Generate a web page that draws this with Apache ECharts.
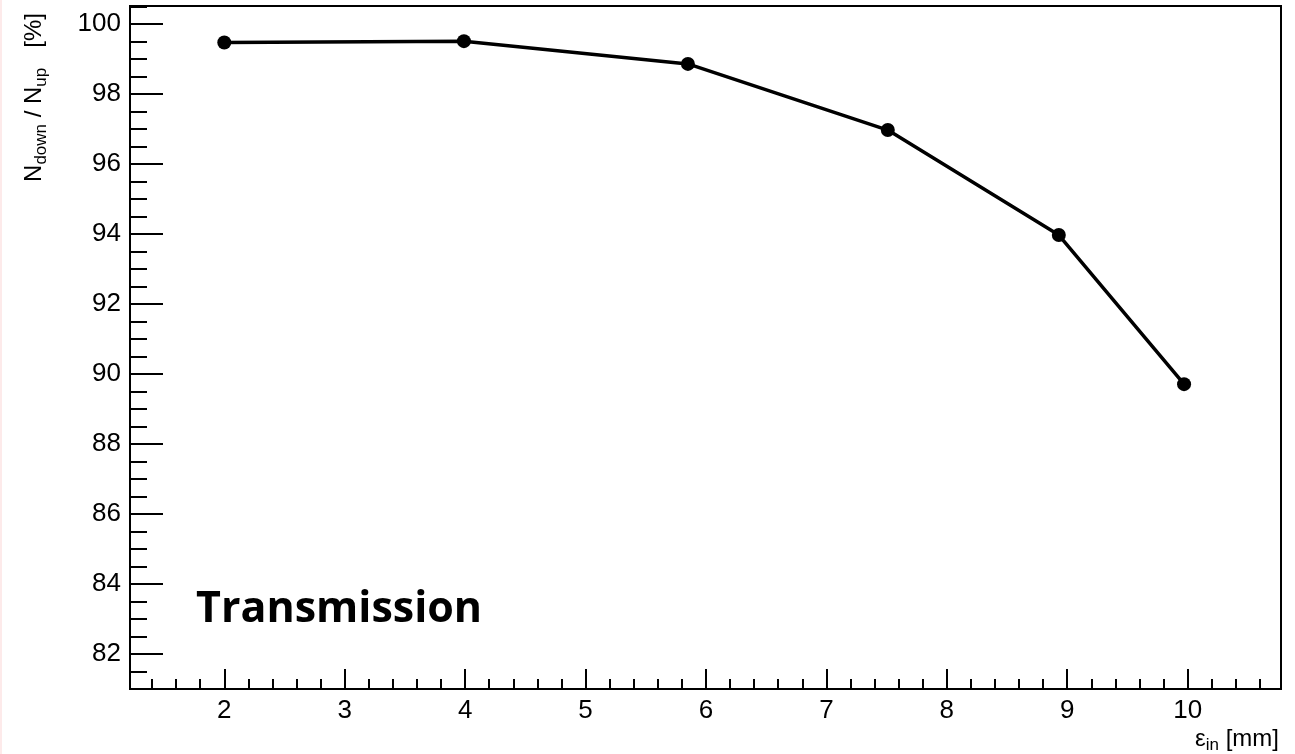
<!DOCTYPE html>
<html>
<head>
<meta charset="utf-8">
<script src="https://cdn.jsdelivr.net/npm/echarts@6/dist/echarts.min.js"></script>
<style>
html,body{margin:0;padding:0;background:#fff;}
#c{width:1295px;height:754px;}
</style>
</head>
<body>
<div id="c"></div>
<script>
// Data
const emittanceIn = [2.0, 3.99, 5.85, 7.51, 8.93, 9.97];      // ε_in [mm]
const transmission = [99.47, 99.51, 98.86, 96.97, 93.97, 89.71]; // N_down / N_up [%]
const xRange = [1.217, 10.775];
const yRange = [81, 100.514];
const annotation = 'Transmission';

const points = emittanceIn.map((x, i) => [x, transmission[i]]);

const chart = echarts.init(document.getElementById('c'));
const font = '"Liberation Sans", Arial, Helvetica, sans-serif';

chart.setOption({
  animation: false,
  backgroundColor: '#fff',
  title: {
    text: annotation,
    left: 191,
    top: 583,
    textStyle: {fontFamily: '"Open Sans", sans-serif', fontWeight: 'bold', fontSize: 43, color: '#000'}
  },
  graphic: [{
    type: 'line', shape: {x1: 1, y1: 0, x2: 1, y2: 754},
    style: {stroke: '#fde3e3', lineWidth: 1.5}, silent: true
  }],
  grid: {
    left: 130, right: 14, top: 6, bottom: 65,
    show: true, borderColor: '#000', borderWidth: 2, backgroundColor: 'transparent'
  },
  xAxis: {
    type: 'value',
    min: xRange[0], max: xRange[1],
    splitNumber: 10, minInterval: 1, maxInterval: 1,
    name: '{n|ε}{sub|in}{n| [mm]}',
    nameLocation: 'end', nameGap: 0,
    nameTextStyle: {
      align: 'right', verticalAlign: 'top', padding: [35, 2, 0, 0],
      rich: {
        n: {fontFamily: font, fontSize: 24, color: '#000', lineHeight: 30, verticalAlign: 'middle'},
        sub: {fontFamily: font, fontSize: 17, color: '#000', lineHeight: 30, verticalAlign: 'bottom', padding: [12, 0, 0, 0]}
      }
    },
    axisLine: {show: true, onZero: false, lineStyle: {color: '#000', width: 2}},
    axisTick: {show: true, inside: true, length: 20, lineStyle: {color: '#000', width: 2}},
    minorTick: {show: true, splitNumber: 5, length: 10, lineStyle: {color: '#000', width: 2}},
    splitLine: {show: false},
    axisLabel: {
      fontFamily: font, fontSize: 26, color: '#000', margin: 9,
      formatter: v => (Math.abs(v - Math.round(v)) < 1e-6 ? String(Math.round(v)) : '')
    }
  },
  yAxis: {
    type: 'value',
    min: yRange[0], max: yRange[1],
    splitNumber: 10, minInterval: 2, maxInterval: 2,
    name: '{n|N}{sub|down}{n| / N}{sub|up}{n|   [%]}',
    nameLocation: 'middle', nameRotate: 90, nameGap: 80,
    nameTextStyle: {
      padding: [0, 0, 0, 500],
      rich: {
        n: {fontFamily: font, fontSize: 24, color: '#000', lineHeight: 32, verticalAlign: 'middle'},
        sub: {fontFamily: font, fontSize: 17, color: '#000', lineHeight: 32, verticalAlign: 'bottom', padding: [14, 0, 0, 0]}
      }
    },
    axisLine: {show: true, onZero: false, lineStyle: {color: '#000', width: 2}},
    axisTick: {show: true, inside: true, length: 33, lineStyle: {color: '#000', width: 2}},
    minorTick: {show: true, splitNumber: 4, length: 17, lineStyle: {color: '#000', width: 2}},
    splitLine: {show: false},
    axisLabel: {
      fontFamily: font, fontSize: 26, color: '#000', margin: 9,
      formatter: v => (Math.abs(v / 2 - Math.round(v / 2)) < 1e-6 ? String(Math.round(v)) : '')
    }
  },
  series: [{
    type: 'line',
    data: points,
    symbol: 'circle',
    symbolSize: 14,
    showAllSymbol: true,
    lineStyle: {color: '#000', width: 3.5},
    itemStyle: {color: '#000', borderWidth: 0},
    z: 5
  }]
});
</script>
</body>
</html>
